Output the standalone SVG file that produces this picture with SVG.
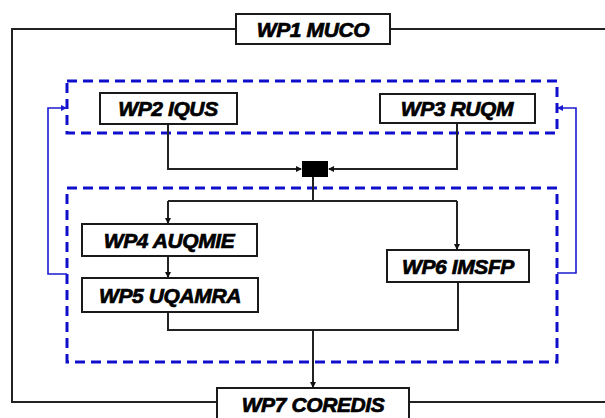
<svg xmlns="http://www.w3.org/2000/svg" width="605" height="418" viewBox="0 0 605 418">
<style>
.box{fill:#fff;stroke:#1a1a1a;stroke-width:2}
.lbl{font-family:"Liberation Sans",Arial,sans-serif;font-weight:bold;font-style:italic;font-size:21px;fill:#000;stroke:#000;stroke-width:0.7;text-anchor:middle;letter-spacing:-0.4px}
.con{fill:none;stroke:#222;stroke-width:2}
.frame{fill:none;stroke:#222;stroke-width:2}
.dash{fill:none;stroke:#1010cc;stroke-width:3;stroke-dasharray:10 6}
.fb{fill:none;stroke:#1a1ad0;stroke-width:1.6}
</style>
<defs>
<marker id="ah" markerWidth="6" markerHeight="6" refX="5" refY="3" orient="auto" markerUnits="userSpaceOnUse"><path d="M0,0 L6,3 L0,6 Z" fill="#111"/></marker>
<marker id="bh" markerWidth="6" markerHeight="6" refX="5" refY="3" orient="auto" markerUnits="userSpaceOnUse"><path d="M0,0 L6,3 L0,6 Z" fill="#1a1ad0"/></marker>
</defs>
<g id="frame">
<path class="frame" d="M236,29 H12 V402 H217 M390,29 H606 M409,402 H606"/>
</g>
<g id="groups">
<rect class="dash" x="67" y="81" width="490" height="52"/>
<rect class="dash" x="67" y="188" width="490" height="174"/>
</g>
<g id="connectors">
<path class="con" d="M168,124 V169 H301" marker-end="url(#ah)"/>
<path class="con" d="M457,123 V169 H329" marker-end="url(#ah)"/>
<path class="con" d="M313,177 V201"/>
<path class="con" d="M168,201 H457"/>
<path class="con" d="M168,201 V223" marker-end="url(#ah)"/>
<path class="con" d="M457,201 V249" marker-end="url(#ah)"/>
<path class="con" d="M168,256 V277" marker-end="url(#ah)"/>
<path class="con" d="M168,312 V330 H458 V282"/>
<path class="con" d="M313,330 V387" marker-end="url(#ah)"/>
<path class="fb" d="M67,274 H48 V108 H66" marker-end="url(#bh)"/>
<path class="fb" d="M557,273 H576 V108 H558" marker-end="url(#bh)"/>
</g>
<g id="junction"><rect x="302" y="161" width="26" height="16" fill="#000"/></g>
<g id="wp1"><rect class="box" x="236" y="14" width="154" height="30"/><text class="lbl" x="313" y="36.5">WP1 MUCO</text></g>
<g id="wp2"><rect class="box" x="100" y="93" width="137" height="31"/><text class="lbl" x="168" y="116">WP2 IQUS</text></g>
<g id="wp3"><rect class="box" x="380" y="94" width="155" height="29"/><text class="lbl" x="457" y="116">WP3 RUQM</text></g>
<g id="wp4"><rect class="box" x="82" y="224" width="175" height="32"/><text class="lbl" x="169" y="248">WP4 AUQMIE</text></g>
<g id="wp5"><rect class="box" x="82" y="278" width="176" height="34"/><text class="lbl" x="170" y="303">WP5 UQAMRA</text></g>
<g id="wp6"><rect class="box" x="387" y="250" width="142" height="32"/><text class="lbl" x="458" y="274">WP6 IMSFP</text></g>
<g id="wp7"><rect class="box" x="217" y="388" width="192" height="34"/><text class="lbl" x="313" y="412">WP7 COREDIS</text></g>
</svg>
